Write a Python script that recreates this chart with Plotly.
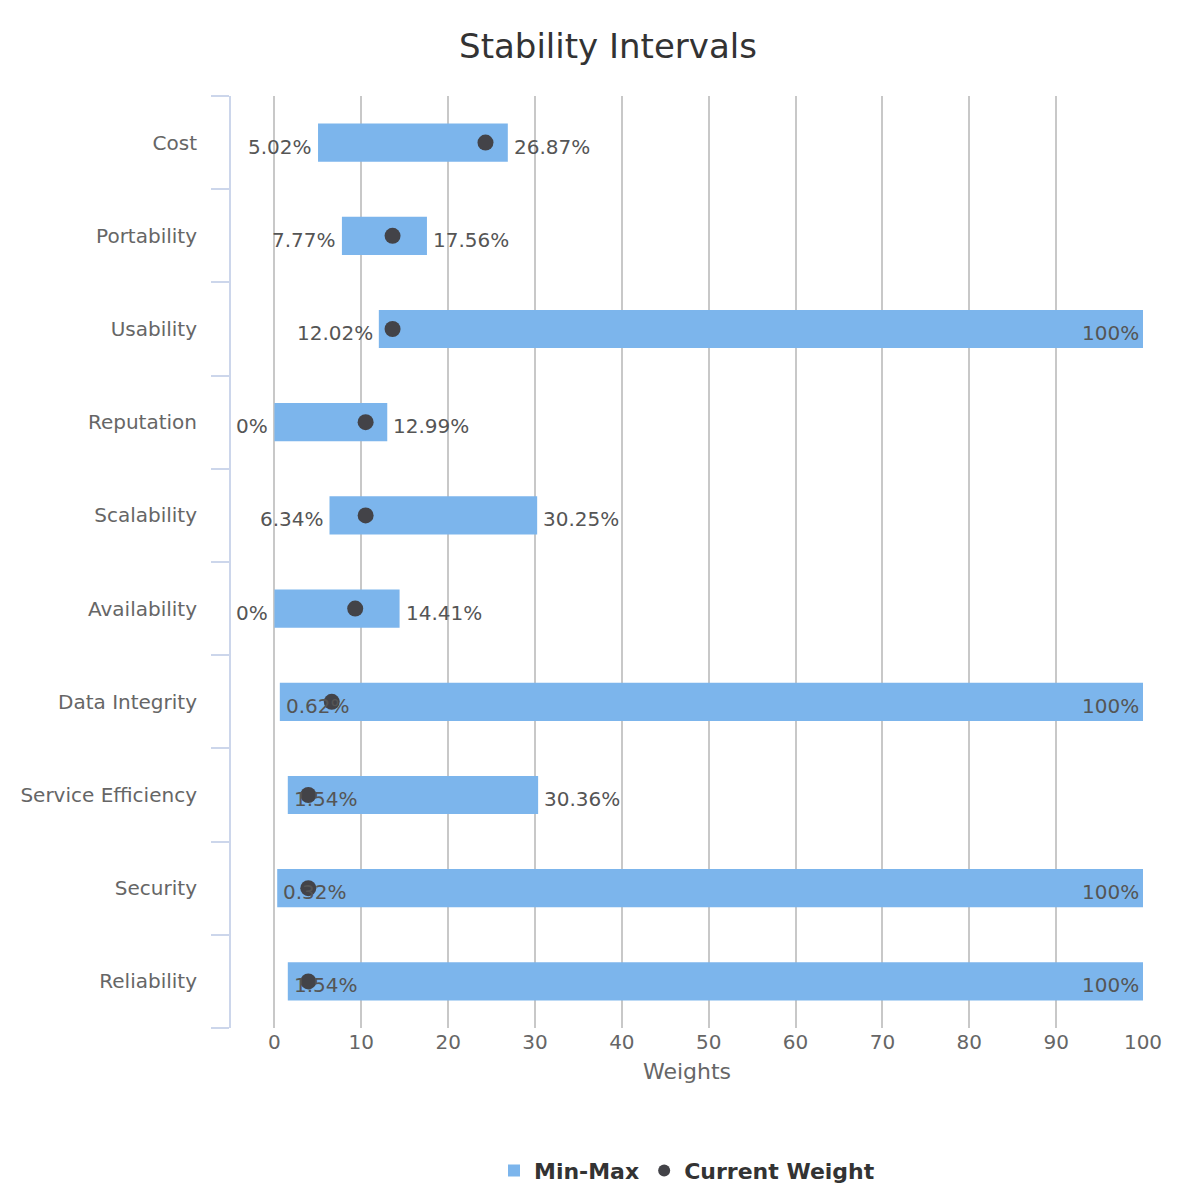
import plotly.graph_objects as go

categories = ["Cost", "Portability", "Usability", "Reputation", "Scalability",
              "Availability", "Data Integrity", "Service Efficiency", "Security", "Reliability"]
low = [5.02, 7.77, 12.02, 0, 6.34, 0, 0.62, 1.54, 0.32, 1.54]
high = [26.87, 17.56, 100, 12.99, 30.25, 14.41, 100, 30.36, 100, 100]
current = [24.3, 13.6, 13.6, 10.5, 10.5, 9.3, 6.6, 3.9, 3.9, 3.9]

ypos = list(range(len(categories)))
PX_PER_UNIT = 868 / 100  # plot width / x span, for label overflow checks


def fmt(v):
    return f"{v:g}%"


fig = go.Figure()
fig.add_trace(go.Bar(
    y=ypos, x=[h - l for l, h in zip(low, high)], base=low, orientation="h",
    name="Min-Max", marker=dict(color="#7cb5ec", line=dict(width=0)), width=0.41,
))
fig.add_trace(go.Scatter(
    y=ypos, x=current, mode="markers", name="Current Weight",
    marker=dict(color="#434348", size=16),
))

annotations = []
font = dict(family="DejaVu Sans", size=20, color="#555555")
for y, l, h in zip(ypos, low, high):
    t = fmt(l)
    width_units = (len(t) * 12 + 8) / PX_PER_UNIT
    if l - width_units < -5:
        annotations.append(dict(x=l, y=y, text=t, xanchor="left", xshift=4, yshift=-4,
                                showarrow=False, font=font))
    else:
        annotations.append(dict(x=l, y=y, text=t, xanchor="right", xshift=-4, yshift=-4,
                                showarrow=False, font=font))
    t = fmt(h)
    if h >= 99:
        annotations.append(dict(x=h, y=y, text=t, xanchor="right", xshift=-2, yshift=-4,
                                showarrow=False, font=font))
    else:
        annotations.append(dict(x=h, y=y, text=t, xanchor="left", xshift=4, yshift=-4,
                                showarrow=False, font=font))

fig.update_layout(
    width=1200, height=1200,
    plot_bgcolor="white", paper_bgcolor="white",
    font=dict(family="DejaVu Sans", size=20, color="#666666"),
    title=dict(text="Stability Intervals", x=0.5, xanchor="center", y=0.968, yanchor="middle",
               font=dict(size=34, color="#333333")),
    margin=dict(l=223, r=65, t=88, b=180),
    annotations=annotations,
    showlegend=True,
    legend=dict(orientation="h", x=0.5, xanchor="center", y=-0.153, yanchor="middle",
                font=dict(size=22, color="#333333", weight="bold"), itemsizing="constant"),
)
fig.update_xaxes(range=[-5, 100], tickvals=list(range(0, 101, 10)), showgrid=True,
                 gridcolor="#c8c8c8", gridwidth=2, zeroline=False, showline=False,
                 title=dict(text="Weights", font=dict(size=22, color="#666666"), standoff=10),
                 ticks="", fixedrange=True)
fig.update_yaxes(range=[len(categories) - 0.5, -0.5], tickvals=ypos, ticktext=categories,
                 showgrid=False, zeroline=False, showline=True, linecolor="#ccd6eb", linewidth=2,
                 ticks="", ticklabelstandoff=28,
                 minor=dict(tick0=0.5, dtick=1, ticks="outside", ticklen=18,
                            tickcolor="#ccd6eb", tickwidth=2, showgrid=False))

fig.write_html("out.html")
